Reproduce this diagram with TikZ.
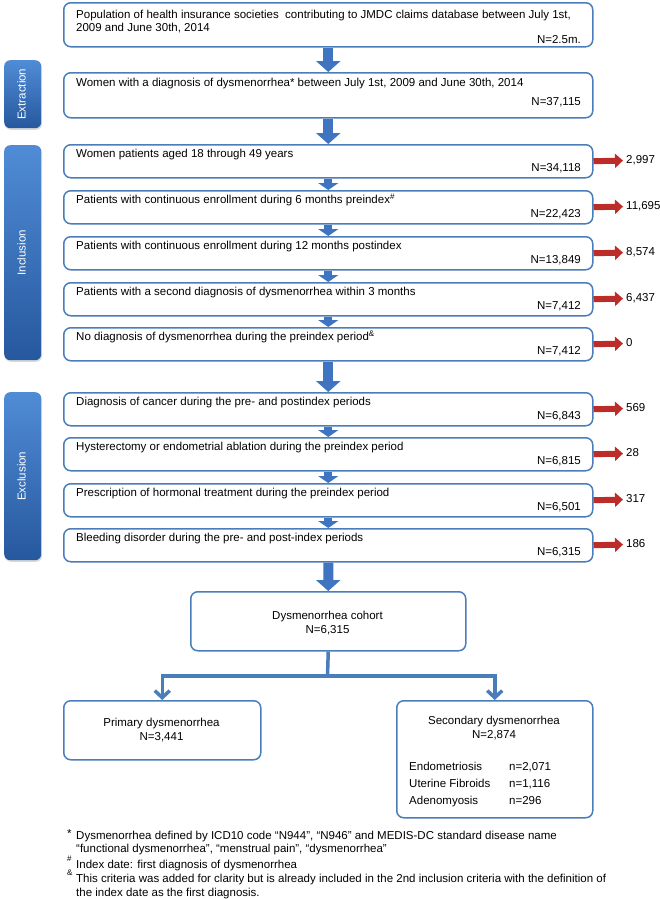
\documentclass[tikz,border=0pt]{standalone}
\usepackage{fontspec}
\setmainfont{Liberation Sans}
\usetikzlibrary{arrows.meta,shadows}
\definecolor{bblue}{RGB}{74,126,187}
\definecolor{ablue}{RGB}{62,116,192}
\definecolor{stop}{RGB}{80,140,214}
\definecolor{sbot}{RGB}{38,88,158}
\definecolor{rred}{RGB}{188,44,40}
\begin{document}
\begin{tikzpicture}[x=1bp,y=-1bp,
  box/.style={draw=bblue, line width=1.5bp, rounded corners=7bp, fill=white, anchor=north west, inner sep=0pt},
  txt/.style={font=\fontsize{11.5bp}{14bp}\selectfont, inner sep=0pt, text height=8.3bp, text depth=2.3bp},
  lt/.style={txt, anchor=west},
  rt/.style={txt, anchor=east},
  side/.style={anchor=north west, rounded corners=6bp, top color=stop, bottom color=sbot, minimum width=37bp, inner sep=0pt, drop shadow={opacity=0.3, shadow xshift=0.8bp, shadow yshift=-1.6bp}},
  sidetxt/.style={txt, text=white, rotate=90},
  bigarrow/.style={draw=ablue, line width=10bp, -{Triangle[width=24bp,length=11bp]}},
  smallarrow/.style={draw=ablue, line width=8bp, -{Triangle[width=20bp,length=7bp]}},
  redarrow/.style={draw=rred, line width=6bp, -{Triangle[width=14bp,length=8bp]}, shorten >=3bp},
  brline/.style={draw=bblue, line width=3.5bp},
  brarrow/.style={brline, -{Straight Barb[width=15bp,length=7bp]}},
]
\useasboundingbox (0,0) rectangle (660,899);

% side labels
\node[side, minimum height=68bp] (sx) at (4,60) {};
\node[sidetxt] (sxt) at (sx.center) {Extraction};
\node[side, minimum height=215bp] (si) at (4,145) {};
\node[sidetxt] (sit) at (si.center) {Inclusion};
\node[side, minimum height=168bp] (se) at (4,392) {};
\node[sidetxt] (set) at (se.center) {Exclusion};

% top box
\node[box, minimum width=529bp, minimum height=44bp] (b0) at (63,2) {};
\node[lt] (b0a) at (76,15) {Population of health insurance societies\ \ contributing to JMDC claims database between July 1st,};
\node[lt] (b0b) at (76,28.5) {2009 and June 30th, 2014};
\node[rt] (b0n) at (581,40) {N=2.5m.};

% extraction box
\node[box, minimum width=529bp, minimum height=45bp] (b1) at (63,72) {};
\node[lt] (b1a) at (76,83.5) {Women with a diagnosis of dysmenorrhea* between July 1st, 2009 and June 30th, 2014};
\node[rt] (b1n) at (581,102) {N=37,115};

% inclusion boxes
\node[box, minimum width=529bp, minimum height=33bp] (i1) at (63,144) {};
\node[lt] (i1a) at (76,154.5) {Women patients aged 18 through 49 years};
\node[rt] (i1n) at (581,168.5) {N=34,118};
\node[box, minimum width=529bp, minimum height=33bp] (i2) at (63,190) {};
\node[lt] (i2a) at (76,200.5) {Patients with continuous enrollment during 6 months preindex\textsuperscript{\#}};
\node[rt] (i2n) at (581,214.5) {N=22,423};
\node[box, minimum width=529bp, minimum height=33bp] (i3) at (63,236) {};
\node[lt] (i3a) at (76,246.5) {Patients with continuous enrollment during 12 months postindex};
\node[rt] (i3n) at (581,260.5) {N=13,849};
\node[box, minimum width=529bp, minimum height=33bp] (i4) at (63,282) {};
\node[lt] (i4a) at (76,292.5) {Patients with a second diagnosis of dysmenorrhea within 3 months};
\node[rt] (i4n) at (581,306.5) {N=7,412};
\node[box, minimum width=529bp, minimum height=33bp] (i5) at (63,327) {};
\node[lt] (i5a) at (76,337.5) {No diagnosis of dysmenorrhea during the preindex period\textsuperscript{\&}};
\node[rt] (i5n) at (581,351.5) {N=7,412};

% exclusion boxes
\node[box, minimum width=529bp, minimum height=33bp] (e1) at (63,392) {};
\node[lt] (e1a) at (76,402.5) {Diagnosis of cancer during the pre- and postindex periods};
\node[rt] (e1n) at (581,416.5) {N=6,843};
\node[box, minimum width=529bp, minimum height=33bp] (e2) at (63,437) {};
\node[lt] (e2a) at (76,447.5) {Hysterectomy or endometrial ablation during the preindex period};
\node[rt] (e2n) at (581,461.5) {N=6,815};
\node[box, minimum width=529bp, minimum height=33bp] (e3) at (63,483) {};
\node[lt] (e3a) at (76,493.5) {Prescription of hormonal treatment during the preindex period};
\node[rt] (e3n) at (581,507.5) {N=6,501};
\node[box, minimum width=529bp, minimum height=33bp] (e4) at (63,528) {};
\node[lt] (e4a) at (76,538.5) {Bleeding disorder during the pre- and post-index periods};
\node[rt] (e4n) at (581,552.5) {N=6,315};

% cohort and outcome boxes
\node[box, minimum width=275bp, minimum height=59bp] (coh) at (190,591) {};
\node[txt] (coha) at (327.5,616) {Dysmenorrhea cohort};
\node[txt] (cohn) at (327.5,630) {N=6,315};
\node[box, minimum width=197bp, minimum height=59bp] (prim) at (63,700) {};
\node[txt] (prima) at (161.5,723) {Primary dysmenorrhea};
\node[txt] (primn) at (161.5,737) {N=3,441};
\node[box, minimum width=196bp, minimum height=117bp] (sec) at (396,700) {};
\node[txt] (seca) at (494,721) {Secondary dysmenorrhea};
\node[txt] (secn) at (494,735) {N=2,874};
\node[lt] (s1) at (409,767) {Endometriosis};
\node[lt] (s1n) at (509,767) {n=2,071};
\node[lt] (s2) at (409,784) {Uterine Fibroids};
\node[lt] (s2n) at (509,784) {n=1,116};
\node[lt] (s3) at (409,801) {Adenomyosis};
\node[lt] (s3n) at (509,801) {n=296};

% excluded counts
\node[lt] (x1) at (626,160.5) {2,997};
\node[lt] (x2) at (626,206.5) {11,695};
\node[lt] (x3) at (626,252.5) {8,574};
\node[lt] (x4) at (626,298.5) {6,437};
\node[lt] (x5) at (626,343.5) {0};
\node[lt] (x6) at (626,408.5) {569};
\node[lt] (x7) at (626,453.5) {28};
\node[lt] (x8) at (626,499.5) {317};
\node[lt] (x9) at (626,544.5) {186};

% blue arrows
\draw[bigarrow] (b0.south) -- (b1.north);
\draw[bigarrow] (b1.south) -- (i1.north);
\draw[smallarrow] (i1.south) -- (i2.north);
\draw[smallarrow] (i2.south) -- (i3.north);
\draw[smallarrow] (i3.south) -- (i4.north);
\draw[smallarrow] (i4.south) -- (i5.north);
\draw[bigarrow] (i5.south) -- (e1.north);
\draw[smallarrow] (e1.south) -- (e2.north);
\draw[smallarrow] (e2.south) -- (e3.north);
\draw[smallarrow] (e3.south) -- (e4.north);
\draw[bigarrow] (e4.south) -- (coh.north);

% red arrows
\foreach \b/\x in {i1/x1,i2/x2,i3/x3,i4/x4,i5/x5,e1/x6,e2/x7,e3/x8,e4/x9}{
  \draw[redarrow] (\b.east) -- (\x.west);
}

% branch
\coordinate (bj) at (327.5,676);
\draw[brline] (coh.south) -- (bj);
\draw[brarrow] (bj) -| (prim.north);
\draw[brarrow] (bj) -| (sec.north);

% footnotes
\node[lt] (f1m) at (67,834) {*};
\node[lt] (f1a) at (76,836) {Dysmenorrhea defined by ICD10 code “N944”, “N946” and MEDIS-DC standard disease name};
\node[lt] (f1b) at (76,849.5) {“functional dysmenorrhea”, “menstrual pain”, “dysmenorrhea”};
\node[lt] (f2m) at (67,863) {\textsuperscript{\#}};
\node[lt] (f2a) at (76,865) {Index date: first diagnosis of dysmenorrhea};
\node[lt] (f3m) at (67,877) {\textsuperscript{\&}};
\node[lt] (f3a) at (76,879) {This criteria was added for clarity but is already included in the 2nd inclusion criteria with the definition of};
\node[lt] (f3b) at (76,893) {the index date as the first diagnosis.};
\end{tikzpicture}
\end{document}
